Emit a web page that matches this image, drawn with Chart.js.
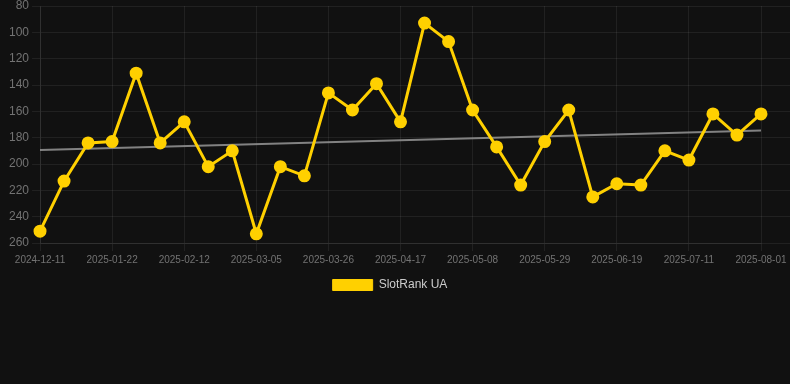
<!DOCTYPE html>
<html lang="en">
<head>
    <meta charset="UTF-8">
    <title>SlotRank UA</title>
    <style>
        html, body {
            margin: 0;
            padding: 0;
            background: #111111;
        }
        .chart-box {
            position: relative;
            width: 790px;
            height: 301px;
        }
    </style>
    <script src="https://cdn.jsdelivr.net/npm/chart.js"></script>
</head>
<body>
    <div class="chart-box">
        <canvas id="rankChart"></canvas>
    </div>

    <script>
        // Weekly dates (category axis)
        const dates = [
            '2024-12-11', '2024-12-25', '2025-01-08', '2025-01-22', '2025-01-29', '2025-02-05',
            '2025-02-12', '2025-02-19', '2025-02-26', '2025-03-05', '2025-03-12', '2025-03-19',
            '2025-03-26', '2025-04-02', '2025-04-09', '2025-04-17', '2025-04-24', '2025-05-01',
            '2025-05-08', '2025-05-15', '2025-05-22', '2025-05-29', '2025-06-05', '2025-06-12',
            '2025-06-19', '2025-06-26', '2025-07-03', '2025-07-11', '2025-07-18', '2025-07-25',
            '2025-08-01'
        ];

        // Rank values (lower is better, axis reversed)
        const ranks = [
            251, 213, 184, 183, 131, 184, 168, 202, 190, 253, 202,
            209, 146, 159, 139, 168, 93, 107, 159, 187, 216,
            183, 159, 225, 215, 216, 190, 197, 162, 178, 162
        ];

        // Trend line end values
        const trendStart = 189.3;
        const trendEnd = 174.6;

        const yTicks = [80, 100, 120, 140, 160, 180, 200, 220, 240, 260];

        const trend = dates.map((d, i) => i === 0 ? trendStart : (i === dates.length - 1 ? trendEnd : null));

        const gridColor = 'rgba(255,255,255,0.07)';
        const tickColor = '#737373';
        const fontFamily = 'Arial, "Liberation Sans", sans-serif';

        const yAxisBase = {
            reverse: true,
            min: yTicks[0],
            max: yTicks[yTicks.length - 1],
            afterBuildTicks: axis => { axis.ticks = yTicks.map(v => ({ value: v })); }
        };

        // nudge the legend a little to the left, like the original
        const legendShift = {
            id: 'legendShift',
            afterLayout(chart) {
                if (chart.legend) {
                    chart.legend.left -= 8;
                    chart.legend.right -= 8;
                }
            }
        };

        const ctx = document.getElementById('rankChart').getContext('2d');
        new Chart(ctx, {
            type: 'line',
            data: {
                labels: dates,
                datasets: [
                    {
                        label: 'SlotRank UA',
                        data: ranks,
                        borderColor: '#ffd000',
                        backgroundColor: '#ffd000',
                        borderWidth: 3,
                        pointRadius: 5,
                        pointHoverRadius: 5,
                        pointBackgroundColor: '#ffd000',
                        pointBorderColor: '#ffd000',
                        tension: 0
                    },
                    {
                        label: 'Trend',
                        data: trend,
                        borderColor: 'rgba(150,150,150,0.85)',
                        borderWidth: 2,
                        pointRadius: 0,
                        spanGaps: true,
                        tension: 0
                    }
                ]
            },
            options: {
                responsive: true,
                maintainAspectRatio: false,
                animation: false,
                layout: { autoPadding: false, padding: { left: 6, top: 0, right: 0, bottom: 0 } },
                plugins: {
                    legend: {
                        position: 'bottom',
                        labels: {
                            color: '#cccccc',
                            boxWidth: 40,
                            boxHeight: 11,
                            font: { family: fontFamily, size: 12 },
                            generateLabels: chart => Chart.defaults.plugins.legend.labels.generateLabels(chart)
                                .filter(item => item.text !== 'Trend')
                                .map(item => Object.assign(item, { lineWidth: 1 }))
                        }
                    },
                    tooltip: { enabled: false }
                },
                scales: {
                    x: {
                        grid: { color: gridColor, tickLength: 8 },
                        border: { color: gridColor },
                        ticks: {
                            color: tickColor,
                            autoSkip: false,
                            maxRotation: 0,
                            font: { family: fontFamily, size: 10 },
                            callback: (v, i) => i % 3 === 0 ? dates[i] : null
                        }
                    },
                    y: Object.assign({}, yAxisBase, {
                        position: 'left',
                        grid: { color: gridColor },
                        border: { color: gridColor },
                        ticks: { color: tickColor, font: { family: fontFamily, size: 12, lineHeight: 0.5 } }
                    }),
                    y2: Object.assign({}, yAxisBase, {
                        position: 'right',
                        grid: { color: gridColor, drawOnChartArea: false, tickLength: 29 },
                        border: { display: false },
                        ticks: { display: false }
                    })
                }
            },
            plugins: [legendShift]
        });
    </script>
</body>
</html>
